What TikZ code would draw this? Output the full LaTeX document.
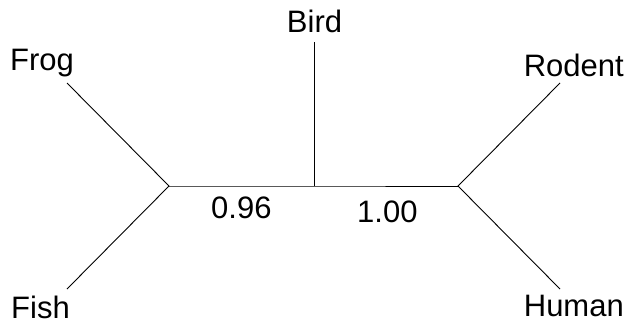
\documentclass[tikz,border=0pt]{standalone}
\usepackage{fontspec}
\setmainfont{Liberation Sans}
\begin{document}
\begin{tikzpicture}[x=1pt,y=-1pt,
  lbl/.style={inner sep=0pt,font=\fontsize{31}{37}\selectfont},
  branch/.style={line width=0.9pt,black}]
\useasboundingbox (0,0) rectangle (631,322);
% junctions
\coordinate (jl) at (169,186);
\coordinate (jm) at (314.5,186);
\coordinate (jr) at (458,186);
% branch tips
\coordinate (tfrog) at (67,83);
\coordinate (tfish) at (67,289);
\coordinate (tbird) at (314.5,42);
\coordinate (trodent) at (560,83);
\coordinate (thuman) at (560,289);
% branches
\draw[branch] (tfrog) -- (jl) -- (tfish);
\draw[branch] (jl) -- (jm) -- (jr);
\draw[branch] (jm) -- (tbird);
\draw[branch] (trodent) -- (jr) -- (thuman);
% labels
\node[lbl,anchor=base west] (frog) at (10,70) {Frog};
\node[lbl,anchor=base west] (fish) at (11,318) {Fish};
\node[lbl,anchor=base] (bird) at (314.5,32) {Bird};
\node[lbl,anchor=base east] (rodent) at (624,76) {Rodent};
\node[lbl,anchor=base east] (human) at (624,316) {Human};
\node[lbl,anchor=base west] (l096) at (211,218) {0.96};
\node[lbl,anchor=base west] (l100) at (357,222) {1.00};
\end{tikzpicture}
\end{document}
